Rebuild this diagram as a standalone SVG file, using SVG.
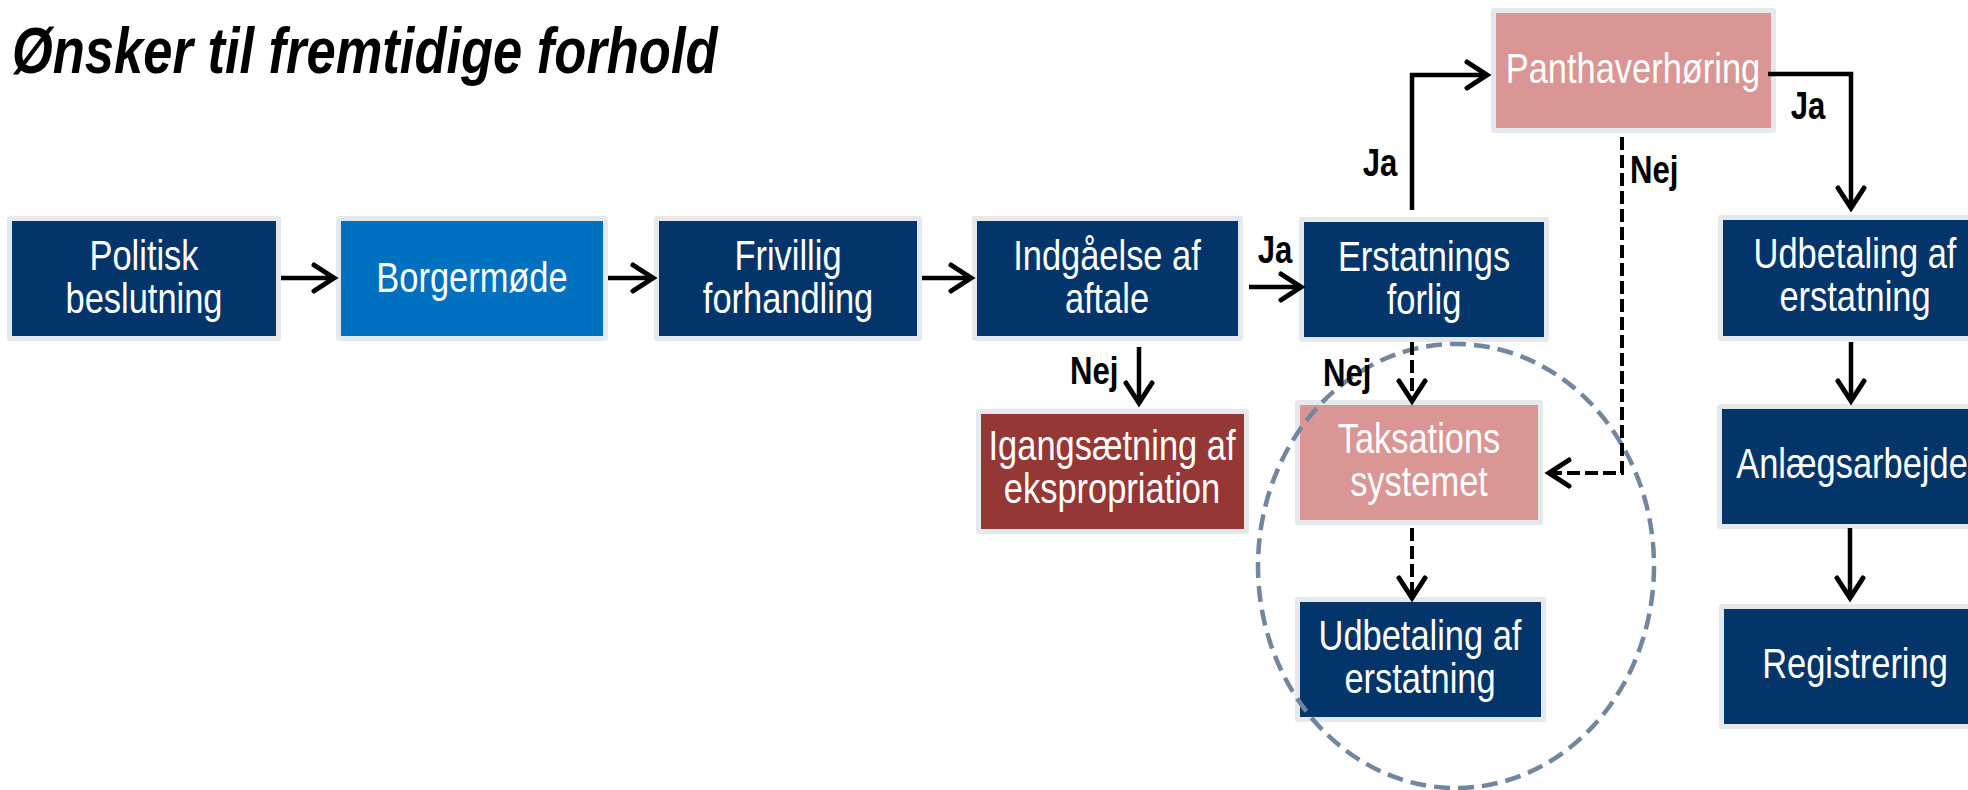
<svg xmlns="http://www.w3.org/2000/svg" width="1968" height="790" viewBox="0 0 1968 790">
<defs>
<style>
.frame{fill:#e5e8ec}
.navy{fill:#03356a}
.blue{fill:#0070c0}
.pink{fill:#d99694}
.red{fill:#953735}
.t{font-family:"Liberation Sans",Arial,sans-serif;font-size:42px;fill:#ffffff;text-anchor:middle}
.lbl{font-family:"Liberation Sans",Arial,sans-serif;font-size:38px;font-weight:bold;fill:#000000}
.title{font-family:"Liberation Sans",Arial,sans-serif;font-size:64px;font-weight:bold;font-style:italic;fill:#000000}
.conn{fill:none;stroke:#000000;stroke-width:4.5}
.dash{fill:none;stroke:#000000;stroke-width:4;stroke-dasharray:13 5}
</style>
<marker id="arr" markerUnits="userSpaceOnUse" viewBox="-26 -16 30 32" refX="0" refY="0" markerWidth="30" markerHeight="32" orient="auto" overflow="visible">
<path d="M-20,-13 L0,0 L-20,13" fill="none" stroke="#000000" stroke-width="5" stroke-linecap="round" stroke-linejoin="miter" stroke-dasharray="none"/>
</marker>
</defs>
<rect width="1968" height="790" fill="#ffffff"/>
<text class="title" transform="translate(12,73) scale(0.82,1)">Ønsker til fremtidige forhold</text>

<g id="n1">
<rect class="frame" x="7" y="216" width="274" height="125" rx="3"/>
<rect class="navy" x="12" y="221" width="264" height="115"/>
<text class="t" transform="translate(144,270) scale(0.82,1)"><tspan x="0">Politisk</tspan><tspan x="0" dy="43">beslutning</tspan></text>
</g>
<g id="n2">
<rect class="frame" x="336" y="216" width="272" height="125" rx="3"/>
<rect class="blue" x="341" y="221" width="262" height="115"/>
<text class="t" transform="translate(472,292) scale(0.82,1)">Borgermøde</text>
</g>
<g id="n3">
<rect class="frame" x="654" y="216" width="268" height="125" rx="3"/>
<rect class="navy" x="659" y="221" width="258" height="115"/>
<text class="t" transform="translate(788,270) scale(0.82,1)"><tspan x="0">Frivillig</tspan><tspan x="0" dy="43">forhandling</tspan></text>
</g>
<g id="n4">
<rect class="frame" x="972" y="216" width="271" height="125" rx="3"/>
<rect class="navy" x="977" y="221" width="261" height="115"/>
<text class="t" transform="translate(1107,270) scale(0.82,1)"><tspan x="0">Indgåelse af</tspan><tspan x="0" dy="43">aftale</tspan></text>
</g>
<g id="n5">
<rect class="frame" x="1299" y="217" width="250" height="125" rx="3"/>
<rect class="navy" x="1304" y="222" width="240" height="115"/>
<text class="t" transform="translate(1424,271) scale(0.82,1)"><tspan x="0">Erstatnings</tspan><tspan x="0" dy="43">forlig</tspan></text>
</g>
<g id="n6">
<rect class="frame" x="1491" y="8" width="285" height="125" rx="3"/>
<rect class="pink" x="1496" y="13" width="275" height="115"/>
<text class="t" transform="translate(1633,83) scale(0.82,1)">Panthaverhøring</text>
</g>
<g id="n7">
<rect class="frame" x="1718" y="215" width="274" height="126" rx="3"/>
<rect class="navy" x="1723" y="220" width="264" height="116"/>
<text class="t" transform="translate(1855,268) scale(0.82,1)"><tspan x="0">Udbetaling af</tspan><tspan x="0" dy="43">erstatning</tspan></text>
</g>
<g id="n8">
<rect class="frame" x="976" y="409" width="273" height="125" rx="3"/>
<rect class="red" x="981" y="414" width="263" height="115"/>
<text class="t" transform="translate(1112,460) scale(0.82,1)"><tspan x="0">Igangsætning af</tspan><tspan x="0" dy="43">ekspropriation</tspan></text>
</g>
<g id="n9">
<rect class="frame" x="1295" y="400" width="248" height="125" rx="3"/>
<rect class="pink" x="1300" y="405" width="238" height="115"/>
<text class="t" transform="translate(1419,453) scale(0.82,1)"><tspan x="0">Taksations</tspan><tspan x="0" dy="43">systemet</tspan></text>
</g>
<g id="n10">
<rect class="frame" x="1295" y="597" width="251" height="125" rx="3"/>
<rect class="navy" x="1300" y="602" width="241" height="115"/>
<text class="t" transform="translate(1420,650) scale(0.82,1)"><tspan x="0">Udbetaling af</tspan><tspan x="0" dy="43">erstatning</tspan></text>
</g>
<g id="n11">
<rect class="frame" x="1717" y="404" width="275" height="125" rx="3"/>
<rect class="navy" x="1722" y="409" width="265" height="115"/>
<text class="t" transform="translate(1852,478) scale(0.82,1)">Anlægsarbejde</text>
</g>
<g id="n12">
<rect class="frame" x="1719" y="604" width="273" height="125" rx="3"/>
<rect class="navy" x="1724" y="609" width="263" height="115"/>
<text class="t" transform="translate(1855,678) scale(0.82,1)">Registrering</text>
</g>

<ellipse id="focus" cx="1456" cy="566" rx="198" ry="222" fill="none" stroke="#7286a0" stroke-width="4.5" stroke-dasharray="16 8"/>

<g id="connectors">
<path class="conn" d="M281,278 H334" marker-end="url(#arr)"/>
<path class="conn" d="M608,278 H653" marker-end="url(#arr)"/>
<path class="conn" d="M922,278 H971" marker-end="url(#arr)"/>
<path class="conn" d="M1249,287 H1301" marker-end="url(#arr)"/>
<path class="conn" d="M1139,347 V403" marker-end="url(#arr)"/>
<path class="conn" d="M1412,210 V75 H1487" marker-end="url(#arr)"/>
<path class="conn" d="M1768,74 H1851 V208" marker-end="url(#arr)"/>
<path class="conn" d="M1851,342 V401" marker-end="url(#arr)"/>
<path class="conn" d="M1850,528 V598" marker-end="url(#arr)"/>
<path class="dash" d="M1412,342 V401" marker-end="url(#arr)"/>
<path class="dash" d="M1412,528 V598" marker-end="url(#arr)"/>
<path class="dash" d="M1622,137 V473 H1549" marker-end="url(#arr)"/>
<text class="lbl" text-anchor="middle" transform="translate(1275,263) scale(0.82,1)">Ja</text>
<text class="lbl" text-anchor="middle" transform="translate(1380,176) scale(0.82,1)">Ja</text>
<text class="lbl" text-anchor="middle" transform="translate(1808,119) scale(0.82,1)">Ja</text>
<text class="lbl" transform="translate(1630,183) scale(0.82,1)">Nej</text>
<text class="lbl" transform="translate(1070,384) scale(0.82,1)">Nej</text>
<text class="lbl" transform="translate(1323,386) scale(0.82,1)">Nej</text>
</g>
</svg>
